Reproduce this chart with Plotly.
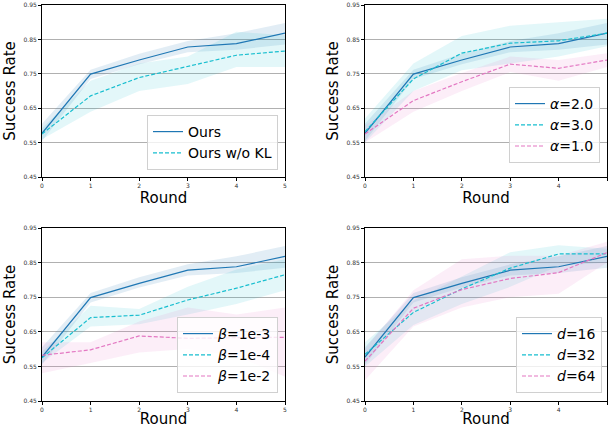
import plotly.graph_objects as go

rounds = [0, 1, 2, 3, 4, 5]

# Panel 1
ours = [0.577, 0.749, 0.790, 0.828, 0.838, 0.868]
ours_lo = [0.555, 0.735, 0.778, 0.813, 0.820, 0.835]
ours_hi = [0.605, 0.762, 0.808, 0.845, 0.868, 0.898]
wokl = [0.575, 0.686, 0.739, 0.771, 0.804, 0.816]
wokl_lo = [0.560, 0.640, 0.700, 0.720, 0.770, 0.770]
wokl_hi = [0.592, 0.730, 0.780, 0.800, 0.872, 0.862]

# Panel 2
a3 = [0.582, 0.735, 0.810, 0.839, 0.846, 0.868]
a3_lo = [0.550, 0.700, 0.760, 0.780, 0.800, 0.830]
a3_hi = [0.620, 0.780, 0.860, 0.890, 0.900, 0.910]
a1 = [0.575, 0.672, 0.727, 0.778, 0.766, 0.790]
a1_lo = [0.550, 0.640, 0.700, 0.755, 0.730, 0.770]
a1_hi = [0.600, 0.700, 0.752, 0.800, 0.790, 0.810]

# Panel 3
b4 = [0.575, 0.691, 0.698, 0.742, 0.776, 0.815]
b4_lo = [0.560, 0.665, 0.672, 0.700, 0.730, 0.770]
b4_hi = [0.592, 0.725, 0.716, 0.780, 0.830, 0.860]
b2 = [0.582, 0.598, 0.638, 0.631, 0.633, 0.634]
b2_lo = [0.530, 0.560, 0.590, 0.600, 0.580, 0.520]
b2_hi = [0.620, 0.620, 0.680, 0.720, 0.700, 0.720]

# Panel 4
d32 = [0.585, 0.706, 0.774, 0.834, 0.875, 0.875]
d32_lo = [0.550, 0.670, 0.730, 0.780, 0.840, 0.850]
d32_hi = [0.620, 0.740, 0.810, 0.880, 0.900, 0.890]
d64 = [0.565, 0.718, 0.772, 0.804, 0.821, 0.879]
d64_lo = [0.510, 0.665, 0.720, 0.750, 0.760, 0.850]
d64_hi = [0.600, 0.770, 0.860, 0.870, 0.870, 0.910]

yticks = [0.45, 0.55, 0.65, 0.75, 0.85, 0.95]

BLUE = "#1f77b4"
CYAN = "#17becf"
PINK = "#e377c2"
FILLS = {BLUE: "rgba(31,119,180,0.13)", CYAN: "rgba(23,190,207,0.12)", PINK: "rgba(227,119,194,0.12)"}

fig = go.Figure()

panels = [
    ("x", "y", "legend", [(ours, ours_lo, ours_hi, BLUE, "solid", "Ours"),
                          (wokl, wokl_lo, wokl_hi, CYAN, "dash", "Ours w/o KL")]),
    ("x2", "y2", "legend2", [(ours, ours_lo, ours_hi, BLUE, "solid", "<i>α</i>=2.0"),
                             (a3, a3_lo, a3_hi, CYAN, "dash", "<i>α</i>=3.0"),
                             (a1, a1_lo, a1_hi, PINK, "dash", "<i>α</i>=1.0")]),
    ("x3", "y3", "legend3", [(ours, ours_lo, ours_hi, BLUE, "solid", "<i>β</i>=1e-3"),
                             (b4, b4_lo, b4_hi, CYAN, "dash", "<i>β</i>=1e-4"),
                             (b2, b2_lo, b2_hi, PINK, "dash", "<i>β</i>=1e-2")]),
    ("x4", "y4", "legend4", [(ours, ours_lo, ours_hi, BLUE, "solid", "<i>d</i>=16"),
                             (d32, d32_lo, d32_hi, CYAN, "dash", "<i>d</i>=32"),
                             (d64, d64_lo, d64_hi, PINK, "dash", "<i>d</i>=64")]),
]

for xa, ya, lg, series in panels:
    for vals, lo, hi, col, dash, name in series:
        fig.add_trace(go.Scatter(
            x=rounds + rounds[::-1], y=hi + lo[::-1], fill="toself",
            fillcolor=FILLS[col], line=dict(width=0), mode="lines",
            hoverinfo="skip", showlegend=False, xaxis=xa, yaxis=ya))
    for vals, lo, hi, col, dash, name in series:
        fig.add_trace(go.Scatter(
            x=rounds, y=vals, mode="lines", name=name,
            line=dict(color=col, width=1.2, dash=dash if dash == "solid" else "4px,2px"),
            xaxis=xa, yaxis=ya, legend=lg))

W, H = 608, 428
def fx(p):
    return p / W
def fy(p):
    return 1 - p / H

xd_left = [fx(42), fx(285)]
xd_right = [fx(365), fx(607)]
yd_top = [fy(177), fy(5)]
yd_bot = [fy(401), fy(228)]

axis_common = dict(showline=True, linecolor="black", linewidth=1, mirror=True,
                   ticks="outside", ticklen=3, tickwidth=1, tickcolor="black",
                   tickfont=dict(size=6, color="#333"), automargin=False)
xcommon = dict(axis_common, range=[0, 5], tickvals=rounds, showgrid=False, zeroline=False,
               title=dict(text="Round", font=dict(size=15, color="black"), standoff=2))
ycommon = dict(axis_common, range=[0.45, 0.95], tickvals=yticks,
               ticktext=["%.2f" % v for v in yticks], showgrid=True,
               gridcolor="#b0b0b0", gridwidth=1, zeroline=False,
               title=dict(text="Success Rate", font=dict(size=15, color="black"), standoff=4))

legend_common = dict(bgcolor="rgba(255,255,255,0.8)", bordercolor="#d0d0d0", borderwidth=1,
                     font=dict(size=14, color="black"), tracegroupgap=0,
                     xanchor="right", yanchor="bottom", itemwidth=30)

fig.update_layout(
    width=W, height=H, margin=dict(l=0, r=0, t=0, b=0, autoexpand=False),
    plot_bgcolor="white", paper_bgcolor="white",
    font=dict(family="DejaVu Sans"),
    xaxis=dict(xcommon, domain=xd_left, anchor="y"),
    yaxis=dict(ycommon, domain=yd_top, anchor="x"),
    xaxis2=dict(xcommon, domain=xd_right, anchor="y2"),
    yaxis2=dict(ycommon, domain=yd_top, anchor="x2"),
    xaxis3=dict(xcommon, domain=xd_left, anchor="y3"),
    yaxis3=dict(ycommon, domain=yd_bot, anchor="x3"),
    xaxis4=dict(xcommon, domain=xd_right, anchor="y4"),
    yaxis4=dict(ycommon, domain=yd_bot, anchor="x4"),
    legend=dict(legend_common, x=fx(278), y=fy(170)),
    legend2=dict(legend_common, x=fx(600), y=fy(163)),
    legend3=dict(legend_common, x=fx(278), y=fy(393)),
    legend4=dict(legend_common, x=fx(602), y=fy(393)),
    showlegend=True,
)

# remove the page's default 8px body margin so the figure fills the window
fig.write_html("out.html", config={"displayModeBar": False},
               post_script="document.body.style.margin='0';document.body.style.overflow='hidden';")
